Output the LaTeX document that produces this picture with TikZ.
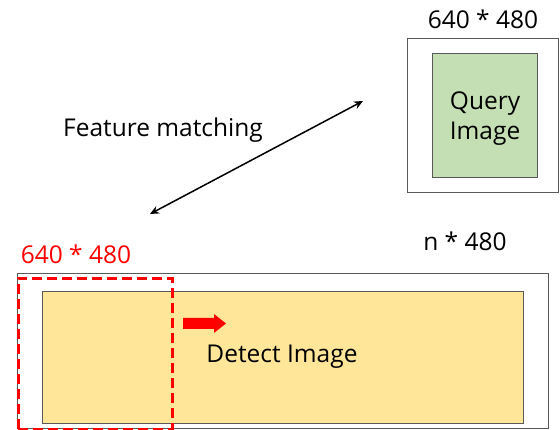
\documentclass[tikz,border=0pt]{standalone}
\usepackage{fontspec}
\setmainfont{Open Sans}
\usetikzlibrary{arrows.meta}
\definecolor{qgreen}{HTML}{C5DFB4}
\definecolor{dyellow}{HTML}{FFE699}
\definecolor{bord}{HTML}{595959}
\definecolor{myred}{HTML}{FF0000}
\tikzset{
  outerbox/.style={draw=bord, line width=1.4pt, fill=white},
  innerbox/.style={draw=bord, line width=1.1pt},
  lbl/.style={font=\fontsize{24.5}{28}\selectfont, inner sep=0pt},
}
\begin{document}
\begin{tikzpicture}[x=1pt,y=-1pt]
\useasboundingbox (0,0) rectangle (560,430);
% query
\node[outerbox, minimum width=151pt, minimum height=154pt, anchor=north west] (qouter) at (407,38) {};
\node[innerbox, fill=qgreen, minimum width=105pt, minimum height=124pt, anchor=north west] (query) at (432,53) {};
\node[lbl, align=center] (qtext) at ([yshift=-3pt]query.center) {Query\\[2pt]Image};
\node[lbl] (qlabel) at (483,19) {640 * 480};
% detect
\node[outerbox, minimum width=531pt, minimum height=155pt, anchor=north west] (douter) at (17,273) {};
\node[innerbox, fill=dyellow, minimum width=481pt, minimum height=132pt, anchor=north west] (detect) at (42,291) {};
\node[lbl] (dtext) at (282,357) {Detect Image};
\node[lbl] (nlabel) at (465,241) {n * 480};
\node[lbl, text=myred] (rlabel) at (76,254) {640 * 480};
\node[draw=myred, line width=2.6pt, dash pattern=on 10pt off 5pt, minimum width=154pt, minimum height=151pt, anchor=north west] (window) at (17,277) {};
\fill[myred] (183,318) -- (214,318) -- (214,314) -- (226,323.5) -- (214,333) -- (214,329) -- (183,329) -- cycle;
% feature matching
\node[lbl] (fm) at (163,130) {Feature matching};
\coordinate (a1) at (150,214);
\coordinate (a2) at (363,101);
\draw[{Stealth[length=9pt,width=8pt]}-{Stealth[length=9pt,width=8pt]}, line width=1.5pt] (a1) -- (a2);
\end{tikzpicture}
\end{document}
